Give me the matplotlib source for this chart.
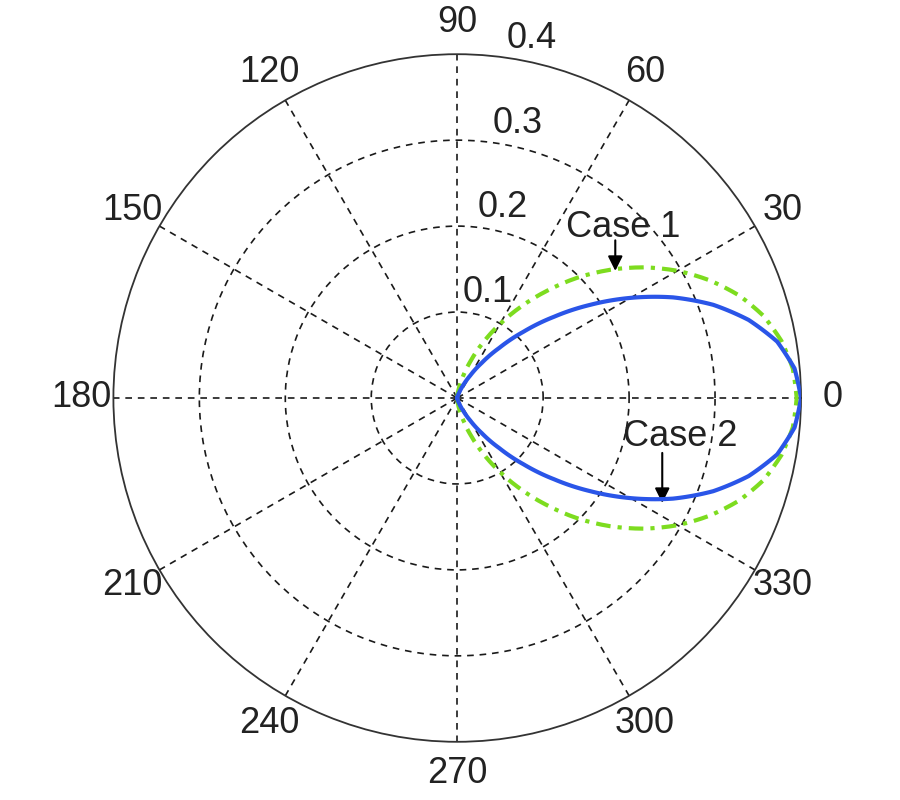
import matplotlib
matplotlib.use("Agg")
import matplotlib.pyplot as plt
import numpy as np

plt.rcParams['font.family'] = ['Liberation Sans', 'DejaVu Sans']

# angles in degrees, -90 .. 90 step 5
angles_deg = [-90, -85, -80, -75, -70, -65, -60, -55, -50, -45, -40, -35, -30,
              -25, -20, -15, -10, -5, 0, 5, 10, 15, 20, 25, 30, 35, 40, 45,
              50, 55, 60, 65, 70, 75, 80, 85, 90]

# Case 1 (green dash-dot)
case1_r = [0.000, 0.003, 0.012, 0.026, 0.046, 0.071, 0.099, 0.130, 0.163,
           0.198, 0.232, 0.265, 0.296, 0.324, 0.349, 0.369, 0.383, 0.392,
           0.395, 0.392, 0.383, 0.369, 0.349, 0.324, 0.296, 0.265, 0.232,
           0.198, 0.163, 0.130, 0.099, 0.071, 0.046, 0.026, 0.012, 0.003, 0.000]

# Case 2 (blue solid)
case2_r = [0.000, 0.000, 0.001, 0.003, 0.007, 0.016, 0.030, 0.050, 0.076,
           0.109, 0.147, 0.189, 0.233, 0.277, 0.317, 0.351, 0.378, 0.394,
           0.400, 0.394, 0.378, 0.351, 0.317, 0.277, 0.233, 0.189, 0.147,
           0.109, 0.076, 0.050, 0.030, 0.016, 0.007, 0.003, 0.001, 0.000, 0.000]

r_rings = [0.1, 0.2, 0.3, 0.4]
r_ring_labels = ['0.1', '0.2', '0.3', '0.4']
theta_ticks = [0, 30, 60, 90, 120, 150, 180, 210, 240, 270, 300, 330]

# annotation anchors (theta deg, r) for arrow tips and texts
case1_tip = (38.8, 0.236)
case1_txt = (45.8, 0.277)
case2_tip = (-27.1, 0.268)
case2_txt = (-9.9, 0.263)

fig = plt.figure(figsize=(9, 8), dpi=100)
ax = fig.add_axes([0.126, 0.0725, 0.764, 0.86], projection='polar')

th = np.deg2rad(angles_deg)
l1, = ax.plot(th, case1_r, color='#7ddc1f', lw=3, ls=(0, (3.5, 1.7, 1, 1.7)), zorder=3)
l2, = ax.plot(th, case2_r, color='#2a55e8', lw=3, ls='-', zorder=4)
# draw segments along theta so the curves stay smooth
for ln in (l1, l2):
    ln.get_path()._interpolation_steps = 12

ax.set_ylim(0, 0.4)
ax.set_rticks(r_rings[:-1])
ax.set_yticklabels([])
ax.set_thetagrids(theta_ticks, labels=[''] * len(theta_ticks))
ax.grid(True, color='#1a1a1a', ls=(0, (4, 3.5)), lw=1.2)
ax.spines['polar'].set_color('#333333')
ax.spines['polar'].set_linewidth(1.3)

# angle labels outside the outer circle
for t in theta_ticks:
    ax.text(np.deg2rad(t), 0.437, str(t), ha='center', va='center',
            fontsize=26, color='#222222', clip_on=False)

# radius labels near the 80 deg spoke
for r, lab in zip(r_rings, r_ring_labels):
    ax.annotate(lab, xy=(np.deg2rad(80), r), xytext=(11, 15),
                textcoords='offset points', ha='center', va='center',
                fontsize=26, color='#222222', annotation_clip=False)

# case labels with short vertical arrows
ax.text(np.deg2rad(case1_txt[0]), case1_txt[1], 'Case 1', ha='center',
        va='center', fontsize=26, color='#222222')
ax.annotate('', xy=(np.deg2rad(case1_tip[0]), case1_tip[1]), xytext=(0, 22),
            textcoords='offset points',
            arrowprops=dict(arrowstyle='-|>', color='black', lw=1.5,
                            mutation_scale=22, shrinkA=0, shrinkB=0))
ax.text(np.deg2rad(case2_txt[0]), case2_txt[1], 'Case 2', ha='center',
        va='center', fontsize=26, color='#222222')
ax.annotate('', xy=(np.deg2rad(case2_tip[0]), case2_tip[1]), xytext=(0, 36),
            textcoords='offset points',
            arrowprops=dict(arrowstyle='-|>', color='black', lw=1.5,
                            mutation_scale=22, shrinkA=0, shrinkB=0))

fig.savefig('out.png', dpi=100)
